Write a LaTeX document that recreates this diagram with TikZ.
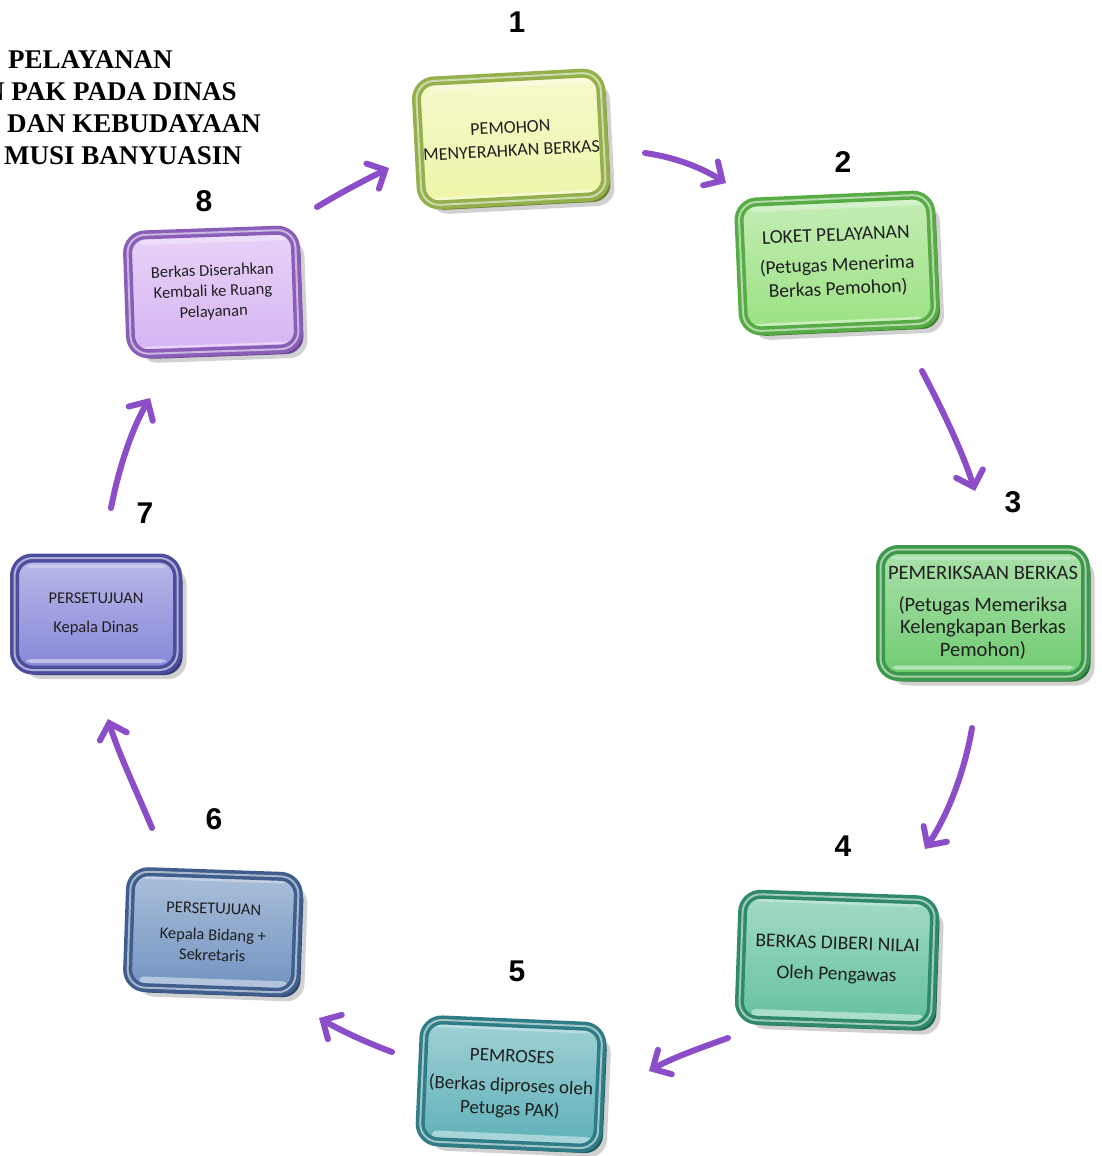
\documentclass[tikz,border=0pt]{standalone}
\usepackage{fontspec}
\setmainfont{Carlito}
\newfontfamily\titlefont{Liberation Serif}
\newfontfamily\numfont{Liberation Sans}
\usetikzlibrary{arrows.meta,shadows}
\definecolor{arrowc}{RGB}{140,78,200}
\definecolor{faceA}{HTML}{EEF5A8}\definecolor{edgeA}{HTML}{93B04A}
\definecolor{faceB}{HTML}{9BE182}\definecolor{edgeB}{HTML}{58AC45}
\definecolor{faceC}{HTML}{6FCB70}\definecolor{edgeC}{HTML}{3C984A}
\definecolor{faceD}{HTML}{62C19B}\definecolor{edgeD}{HTML}{2E8A69}
\definecolor{faceE}{HTML}{5CB0B7}\definecolor{edgeE}{HTML}{2E7D86}
\definecolor{faceF}{HTML}{7092C0}\definecolor{edgeF}{HTML}{3F5E8E}
\definecolor{faceG}{HTML}{8686D8}\definecolor{edgeG}{HTML}{4D4D9E}
\definecolor{faceH}{HTML}{D6B4F2}\definecolor{edgeH}{HTML}{8A5EB8}
\tikzset{
  card/.style 2 args={rounded corners=18pt, line width=3.5pt, double distance=2pt,
    align=center, text=black!88, inner sep=4pt,
    draw=#2, double=#2!45!white, top color=#1!58!white, bottom color=#1,
    drop shadow={shadow xshift=9pt,shadow yshift=-9pt,fill=black,opacity=.18},
    drop shadow={shadow xshift=5pt,shadow yshift=-5pt,fill=#2!75!black,opacity=1},
    path picture={
      \fill[white,opacity=.45,rounded corners=4pt]
        ([xshift=12pt,yshift=7pt]path picture bounding box.south west) rectangle
        ([xshift=-12pt,yshift=11pt]path picture bounding box.south east);
      \fill[white,opacity=.30,rounded corners=4pt]
        ([xshift=12pt,yshift=-7pt]path picture bounding box.north west) rectangle
        ([xshift=-12pt,yshift=-10pt]path picture bounding box.north east);
    }},
  numlabel/.style={font=\numfont\bfseries\fontsize{30}{30}\selectfont, text=black},
  titleline/.style={font=\titlefont\bfseries\fontsize{27}{30}\selectfont, text=black, inner sep=0pt},
  arr/.style={draw=arrowc, line width=6pt, line cap=round,
    -{Straight Barb[length=14pt,width=28pt,line cap=round]}}
}
\begin{document}
\begin{tikzpicture}[x=1pt,y=-1pt]
\useasboundingbox (0,0) rectangle (1102,1156);
\fill[white] (0,0) rectangle (1102,1156);

% title (cut at the left edge, as in the reference)
\node[titleline, anchor=base west] (t1) at (8,68) {PELAYANAN};
\node[titleline, anchor=base east] (t2) at (237,100) {N PAK PADA DINAS};
\node[titleline, anchor=base west] (t3) at (7,132) {DAN KEBUDAYAAN};
\node[titleline, anchor=base west] (t4) at (4,164) {MUSI BANYUASIN};

% boxes
\node[card={faceA}{edgeA}, rotate=3, minimum width=178pt, minimum height=124pt,
  font=\fontsize{18}{23}\selectfont] (b1) at (511,139)
  {PEMOHON\\MENYERAHKAN BERKAS};
\node[card={faceB}{edgeB}, rotate=2.5, minimum width=192pt, minimum height=129pt,
  font=\fontsize{19.5}{24}\selectfont] (b2) at (837,263)
  {LOKET PELAYANAN\\[6pt](Petugas Menerima\\Berkas Pemohon)};
\node[card={faceC}{edgeC}, minimum width=205pt, minimum height=127pt,
  font=\fontsize{20.5}{22.5}\selectfont] (b3) at (983,613)
  {PEMERIKSAAN BERKAS\\[9pt](Petugas Memeriksa\\Kelengkapan Berkas\\Pemohon)};
\node[card={faceD}{edgeD}, rotate=-2, minimum width=192pt, minimum height=126pt,
  font=\fontsize{19.5}{22}\selectfont] (b4) at (837,960)
  {BERKAS DIBERI NILAI\\[9pt]Oleh Pengawas};
\node[card={faceE}{edgeE}, rotate=-2.5, minimum width=178pt, minimum height=122pt,
  font=\fontsize{19}{23.5}\selectfont] (b5) at (511,1084)
  {PEMROSES\\[6pt](Berkas diproses oleh\\Petugas PAK)};
\node[card={faceF}{edgeF}, rotate=-2, minimum width=168pt, minimum height=116pt,
  font=\fontsize{16.5}{20.5}\selectfont] (b6) at (213,932)
  {PERSETUJUAN\\[6pt]Kepala Bidang +\\Sekretaris};
\node[card={faceG}{edgeG}, minimum width=163pt, minimum height=112pt,
  font=\fontsize{16.5}{20}\selectfont] (b7) at (96,614)
  {PERSETUJUAN\\[9pt]Kepala Dinas};
\node[card={faceH}{edgeH}, rotate=2, minimum width=168pt, minimum height=119pt,
  font=\fontsize{16.5}{20.5}\selectfont] (b8) at (213,292)
  {Berkas Diserahkan\\Kembali ke Ruang\\Pelayanan};

% numbers
\node[numlabel] (n1) at (517,22) {1};
\node[numlabel] (n2) at (843,162) {2};
\node[numlabel] (n3) at (1013,502) {3};
\node[numlabel] (n4) at (843,846) {4};
\node[numlabel] (n5) at (517,971) {5};
\node[numlabel] (n6) at (214,819) {6};
\node[numlabel] (n7) at (145,513) {7};
\node[numlabel] (n8) at (204,201) {8};

% connector end points
\coordinate (a1s) at (645,153);  \coordinate (a1e) at (726,183);
\coordinate (a2s) at (922,371);  \coordinate (a2e) at (975,491);
\coordinate (a3s) at (972,728);  \coordinate (a3e) at (925,849);
\coordinate (a4s) at (728,1038); \coordinate (a4e) at (649,1071);
\coordinate (a5s) at (392,1052); \coordinate (a5e) at (319,1018);
\coordinate (a6s) at (152,828);  \coordinate (a6e) at (108,719);
\coordinate (a7s) at (111,508);  \coordinate (a7e) at (150,398);
\coordinate (a8s) at (317,207);  \coordinate (a8e) at (389,168);

\draw[arr] (a1s) .. controls (680,158) and (705,170) .. (a1e);
\draw[arr] (a2s) .. controls (940,405) and (962,450) .. (a2e);
\draw[arr] (a3s) .. controls (965,770) and (948,815) .. (a3e);
\draw[arr] (a4s) .. controls (700,1048) and (672,1058) .. (a4e);
\draw[arr] (a5s) .. controls (365,1042) and (340,1030) .. (a5e);
\draw[arr] (a6s) .. controls (136,790) and (118,752) .. (a6e);
\draw[arr] (a7s) .. controls (120,462) and (134,425) .. (a7e);
\draw[arr] (a8s) .. controls (340,193) and (365,180) .. (a8e);
\end{tikzpicture}
\end{document}
